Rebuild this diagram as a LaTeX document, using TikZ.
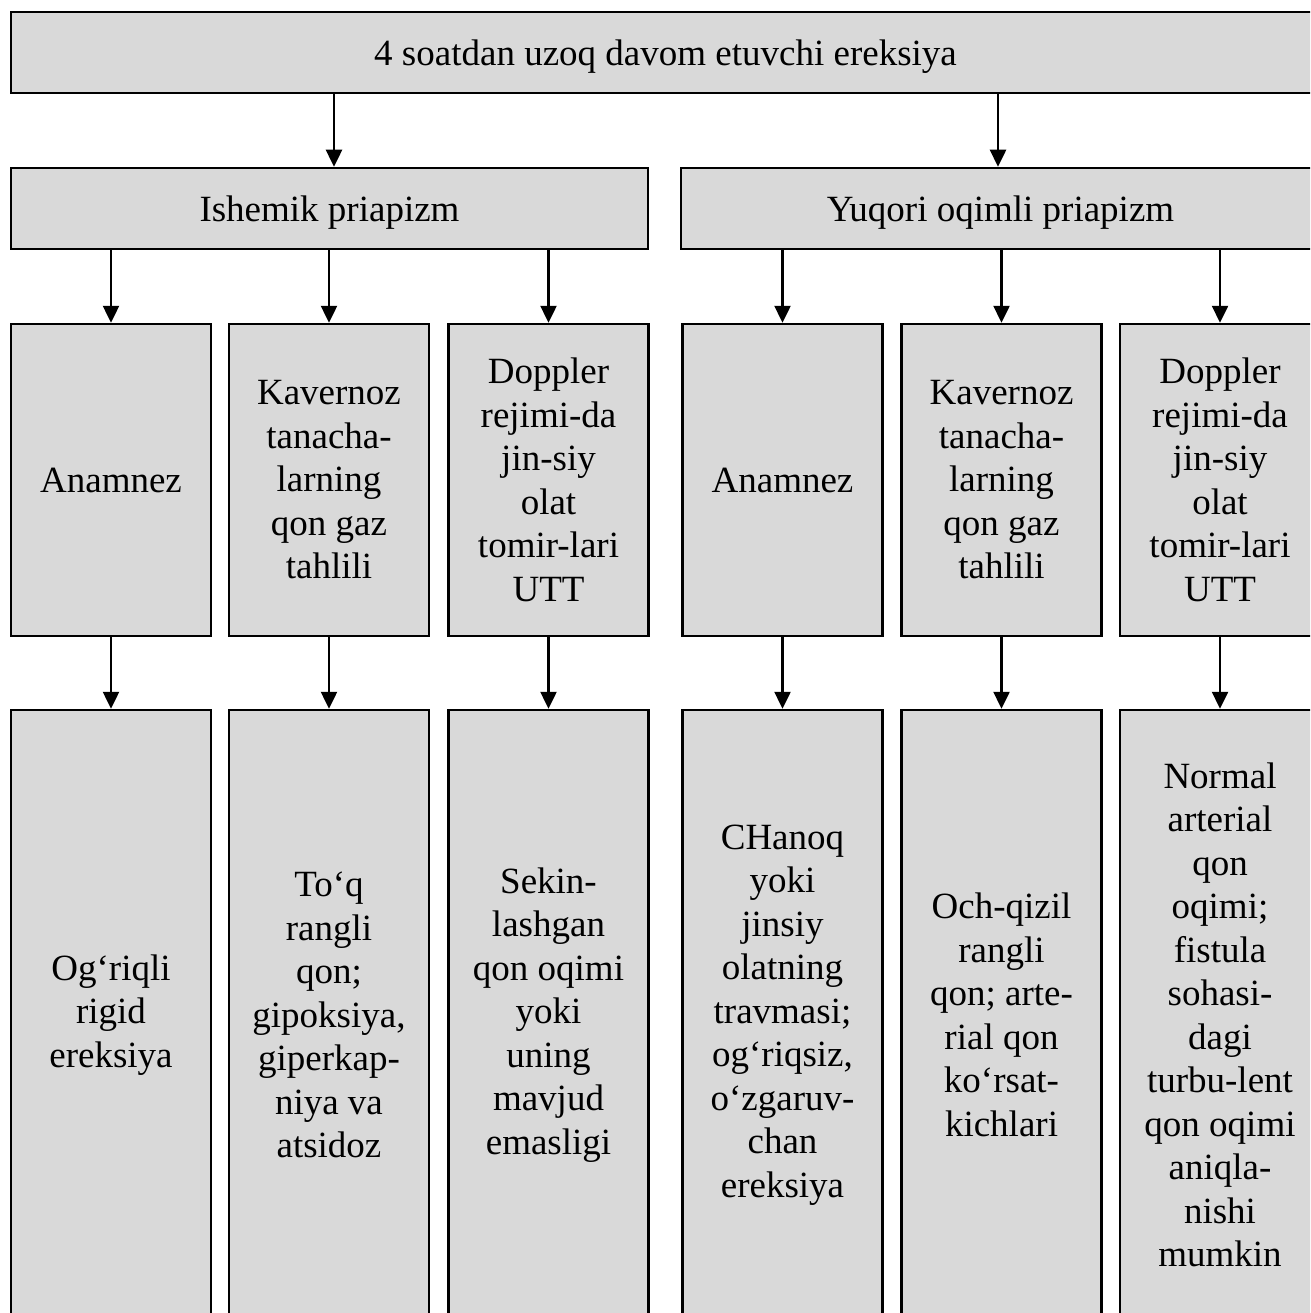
\documentclass[tikz,border=0pt]{standalone}
\usepackage{fontspec}
\setmainfont{Liberation Serif}
\usetikzlibrary{arrows.meta}
\definecolor{boxgray}{RGB}{217,217,217}
\begin{document}
\begin{tikzpicture}[x=1pt,y=-1pt,
 box/.style={draw=black,fill=boxgray,line width=2.5pt,inner sep=0pt,align=center,font=\fontsize{37}{43.5}\selectfont},
 wide/.style={box,minimum height=81pt,text depth=0pt},
 tall/.style={box,minimum width=200pt,minimum height=312pt},
 taller/.style={box,minimum width=200pt,minimum height=610pt},
 arr/.style={line width=2.5pt,-{Triangle[width=16pt,length=17pt]}}]
\useasboundingbox (0,0) rectangle (1310,1313);
\clip (0,0) rectangle (1310,1313);
\fill[white] (0,0) rectangle (1310,1313);
% top
\node[wide,minimum width=1309pt] (top) at (665.5,52.5) {4 soatdan uzoq davom etuvchi ereksiya};
% row 2
\node[wide,minimum width=637pt] (isch) at (329.5,208.5) {Ishemik priapizm};
\node[wide,minimum width=639pt] (high) at (1000.5,208.5) {Yuqori oqimli priapizm};
% row 3
\node[tall] (a1) at (111,480) {Anamnez};
\node[tall] (a2) at (329,480) {Kavernoz\\tanacha-\\larning\\qon gaz\\tahlili};
\node[tall] (a3) at (548.5,480) {Doppler\\rejimi-da\\jin-siy\\olat\\tomir-lari\\UTT};
\node[tall] (b1) at (782.5,480) {Anamnez};
\node[tall] (b2) at (1001.5,480) {Kavernoz\\tanacha-\\larning\\qon gaz\\tahlili};
\node[tall] (b3) at (1220,480) {Doppler\\rejimi-da\\jin-siy\\olat\\tomir-lari\\UTT};
% row 4
\node[taller] (c1) at (111,1015) {Og‘riqli\\rigid\\ereksiya};
\node[taller] (c2) at (329,1015) {To‘q\\rangli\\qon;\\gipoksiya,\\giperkap-\\niya va\\atsidoz};
\node[taller] (c3) at (548.5,1015) {Sekin-\\lashgan\\qon oqimi\\yoki\\uning\\mavjud\\emasligi};
\node[taller] (d1) at (782.5,1015) {CHanoq\\yoki\\jinsiy\\olatning\\travmasi;\\og‘riqsiz,\\o‘zgaruv-\\chan\\ereksiya};
\node[taller] (d2) at (1001.5,1015) {Och-qizil\\rangli\\qon; arte-\\rial qon\\ko‘rsat-\\kichlari};
\node[taller] (d3) at (1220,1015) {Normal\\arterial\\qon\\oqimi;\\fistula\\sohasi-\\dagi\\turbu-lent\\qon oqimi\\aniqla-\\nishi\\mumkin};
% arrows
\draw[arr] ([xshift=4.5pt]isch.north |- top.south) -- ([xshift=4.5pt]isch.north);
\draw[arr] ([xshift=-2.5pt]high.north |- top.south) -- ([xshift=-2.5pt]high.north);
\foreach \n in {a1,a2,a3} \draw[arr] (\n.north |- isch.south) -- (\n.north);
\foreach \n in {b1,b2,b3} \draw[arr] (\n.north |- high.south) -- (\n.north);
\draw[arr] (a1.south) -- (c1.north);
\draw[arr] (a2.south) -- (c2.north);
\draw[arr] (a3.south) -- (c3.north);
\draw[arr] (b1.south) -- (d1.north);
\draw[arr] (b2.south) -- (d2.north);
\draw[arr] (b3.south) -- (d3.north);
\end{tikzpicture}
\end{document}
